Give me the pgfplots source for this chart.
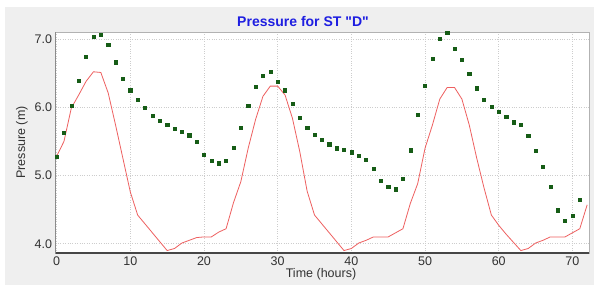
\documentclass[border=0pt]{standalone}
\usepackage{pgfplots}
\pgfplotsset{compat=1.18}
\usepackage{fontspec}
\setmainfont{Liberation Sans}[Ligatures=TeXOff]
\definecolor{panelgray}{RGB}{239,239,239}
\definecolor{obsgreen}{RGB}{22,92,22}
\definecolor{modred}{RGB}{238,96,96}
\definecolor{titleblue}{RGB}{30,30,225}
\definecolor{gridgray}{RGB}{205,205,205}
\definecolor{ticktext}{RGB}{50,50,50}
\begin{document}
\begin{tikzpicture}
\path[use as bounding box] (0pt,0pt) rectangle (594pt,285pt);
\fill[white] (0pt,0pt) rectangle (594pt,285pt);
\fill[panelgray] (5pt,0pt) rectangle (594pt,278pt);
\node[font=\fontsize{14}{16}\selectfont\bfseries, text=titleblue] at (303pt,264pt) {Pressure for ST "D"};
\node[font=\fontsize{12.5}{14}\selectfont, text=ticktext] at (321pt,11pt) {Time (hours)};
\node[font=\fontsize{12.5}{14}\selectfont, text=ticktext, rotate=90] at (22pt,142.5pt) {Pressure (m)};
\begin{axis}[
  at={(55.5pt,32pt)}, anchor=south west,
  scale only axis, width=533.5pt, height=221pt,
  xmin=-0.15, xmax=72.25, ymin=3.864, ymax=7.103,
  xtick={0,10,...,70}, ytick={4,5,6,7},
  major tick length=0pt,
  grid=major,
  major grid style={dotted, gridgray, line width=0.7pt},
  axis background/.style={fill=white},
  axis line style={draw=gray!60, line width=0.8pt},
  tick label style={font=\fontsize{12.5}{14}\selectfont, text=ticktext},
  /pgf/number format/assume math mode=true,
  yticklabel style={/pgf/number format/fixed, /pgf/number format/fixed zerofill, /pgf/number format/precision=1},
  xticklabel style={/pgf/number format/fixed},
  clip=true,
]
\addplot[modred, line width=0.8pt, mark=none] coordinates {
(0,5.28) (1,5.50) (2,5.99) (3,6.18) (4,6.38) (5,6.52) (6,6.51) (7,6.21) (8,5.74) (9,5.25)
(10,4.76) (11,4.42) (12,4.29) (13,4.16) (14,4.03) (15,3.90) (16,3.93) (17,4.01) (18,4.05) (19,4.09)
(20,4.10) (21,4.10) (22,4.17) (23,4.22) (24,4.60) (25,4.91) (26,5.40) (27,5.82) (28,6.16) (29,6.31)
(30,6.31) (31,6.18) (32,5.84) (33,5.35) (34,4.77) (35,4.42) (36,4.29) (37,4.16) (38,4.03) (39,3.90)
(40,3.93) (41,4.01) (42,4.05) (43,4.10) (44,4.10) (45,4.10) (46,4.16) (47,4.22) (48,4.59) (49,4.88)
(50,5.40) (51,5.74) (52,6.12) (53,6.29) (54,6.29) (55,6.12) (56,5.74) (57,5.26) (58,4.82) (59,4.42)
(60,4.27) (61,4.14) (62,4.02) (63,3.90) (64,3.93) (65,4.01) (66,4.05) (67,4.10) (68,4.10) (69,4.10)
(70,4.16) (71,4.22) (72,4.57)
};
\addplot[only marks, mark=square*, mark size=1.6pt, draw=obsgreen, fill=obsgreen] coordinates {
(0,5.28) (1,5.63) (2,6.02) (3,6.39) (4,6.74) (5,7.03) (6,7.06) (7,6.92) (8,6.66) (9,6.42)
(10,6.25) (11,6.11) (12,5.99) (13,5.88) (14,5.80) (15,5.74) (16,5.69) (17,5.64) (18,5.59) (19,5.49)
(20,5.30) (21,5.22) (22,5.18) (23,5.22) (24,5.41) (25,5.70) (26,6.02) (27,6.30) (28,6.46) (29,6.52)
(30,6.37) (31,6.25) (32,6.05) (33,5.85) (34,5.70) (35,5.60) (36,5.53) (37,5.46) (38,5.40) (39,5.38)
(40,5.34) (41,5.29) (42,5.23) (43,5.10) (44,4.92) (45,4.84) (46,4.80) (47,4.95) (48,5.37) (49,5.89)
(50,6.32) (51,6.71) (52,7.01) (53,7.09) (54,6.86) (55,6.70) (56,6.49) (57,6.28) (58,6.11) (59,6.01)
(60,5.94) (61,5.86) (62,5.78) (63,5.74) (64,5.58) (65,5.36) (66,5.13) (67,4.83) (68,4.49) (69,4.34)
(70,4.41) (71,4.65)
};
\draw[gray!55!black, line width=1.2pt] (rel axis cs:0,1) -- (rel axis cs:0,0) -- (rel axis cs:1,0);
\end{axis}
\end{tikzpicture}
\end{document}
